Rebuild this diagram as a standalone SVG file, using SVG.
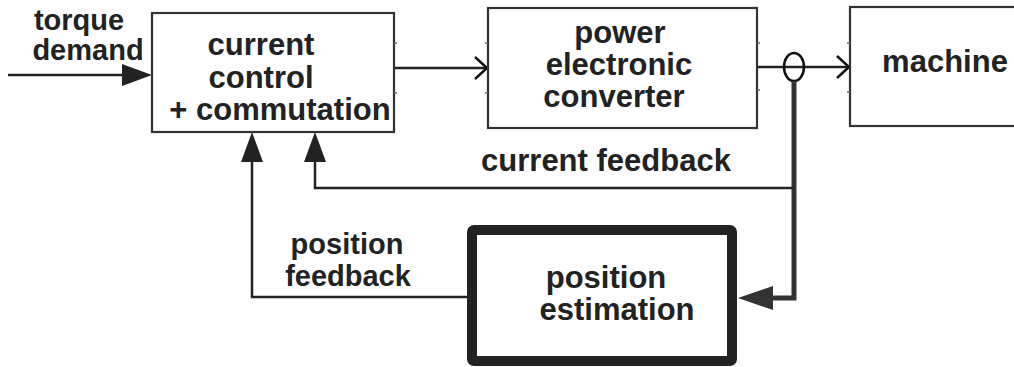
<svg xmlns="http://www.w3.org/2000/svg" width="1014" height="367" viewBox="0 0 1014 367">
<style>
.box{fill:#fff;stroke:#333;stroke-width:2.2}
.thick{fill:#fff;stroke:#222;stroke-width:10}
.t{font-family:"Liberation Sans",Arial,sans-serif;font-weight:bold;font-size:31px;fill:#222;text-anchor:middle}
.s{font-size:29px}
.ln{fill:none;stroke:#222;stroke-width:2.5}
.lnk{fill:none;stroke:#333;stroke-width:5}
.tick{stroke:#666;stroke-width:1.5}
</style>
<defs>
<marker id="tri" viewBox="0 0 30 22" refX="0" refY="11" markerWidth="30" markerHeight="22" markerUnits="userSpaceOnUse" orient="auto">
<path d="M0,0 L30,11 L0,22 z" fill="#222"/>
</marker>
<marker id="triL" viewBox="0 0 35 24" refX="0" refY="12" markerWidth="35" markerHeight="24" markerUnits="userSpaceOnUse" orient="auto">
<path d="M0,0 L35,12 L0,24 z" fill="#333"/>
</marker>
<marker id="chev" viewBox="0 0 14 24" refX="13" refY="12" markerWidth="14" markerHeight="24" markerUnits="userSpaceOnUse" orient="auto" overflow="visible">
<path d="M1,1 L13,12 L1,23" fill="none" stroke="#111" stroke-width="2.5"/>
</marker>
</defs>
<g id="connectors">
<line class="ln" x1="8" y1="75" x2="122" y2="75" marker-end="url(#tri)"/>
<line class="ln" x1="394" y1="68" x2="487" y2="68" marker-end="url(#chev)"/>
<line class="ln" x1="757" y1="67" x2="849" y2="67" marker-end="url(#chev)"/>
<ellipse cx="794" cy="67" rx="10" ry="14" fill="none" stroke="#111" stroke-width="2.5"/>
<polyline class="lnk" points="794,81 794,298 773,298" marker-end="url(#triL)"/>
<polyline class="ln" points="794,188 315,188 315,162" marker-end="url(#tri)"/>
<polyline class="ln" points="467,297 252,297 252,162" marker-end="url(#tri)"/>
<text class="t s" x="79" y="30">torque</text>
<text class="t s" x="88" y="60">demand</text>
<text class="t" x="606" y="171">current feedback</text>
<text class="t s" x="347" y="254">position</text>
<text class="t s" x="348" y="286">feedback</text>
</g>
<g id="current-control">
<rect class="box" x="152" y="13" width="242" height="119"/>
<line class="tick" x1="394" y1="43" x2="397" y2="43"/>
<line class="tick" x1="394" y1="93" x2="397" y2="93"/>
<text class="t" x="261" y="55">current</text>
<text class="t" x="261" y="88">control</text>
<text class="t" x="280" y="120">+ commutation</text>
</g>
<g id="power-converter">
<rect class="box" x="488" y="8" width="269" height="120"/>
<line class="tick" x1="485" y1="43" x2="488" y2="43"/>
<line class="tick" x1="485" y1="93" x2="488" y2="93"/>
<line class="tick" x1="757" y1="43" x2="760" y2="43"/>
<line class="tick" x1="757" y1="90" x2="760" y2="90"/>
<text class="t" x="620" y="43">power</text>
<text class="t" x="619" y="75">electronic</text>
<text class="t" x="614" y="107">converter</text>
</g>
<g id="machine">
<rect class="box" x="850" y="7" width="180" height="119"/>
<line class="tick" x1="847" y1="43" x2="850" y2="43"/>
<line class="tick" x1="847" y1="92" x2="850" y2="92"/>
<text class="t" x="945" y="72">machine</text>
</g>
<g id="position-estimation">
<rect class="thick" x="472" y="230" width="260" height="131" rx="2"/>
<text class="t" x="606" y="288">position</text>
<text class="t" x="617" y="320">estimation</text>
</g>
</svg>
